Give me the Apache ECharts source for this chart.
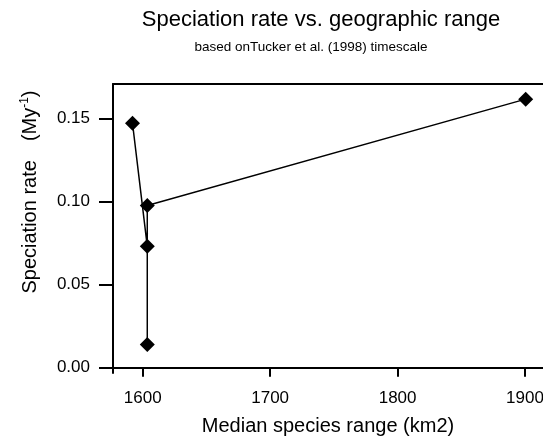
<!DOCTYPE html>
<html>
<head>
<meta charset="utf-8">
<script src="https://cdn.jsdelivr.net/npm/echarts@6/dist/echarts.min.js"></script>
<style>
  html, body { margin: 0; padding: 0; background: #fff; }
  #chart { width: 543px; height: 443px; }
</style>
</head>
<body>
<div id="chart"></div>
<script>
// median range (km2) and speciation rate (My^-1), in plotted order
const rangeKm2 = [1592, 1603.6, 1603.6, 1603.6, 1900.5];
const specRate = [0.147, 0.073, 0.014, 0.0975, 0.1615];
const xTicks = [1600, 1700, 1800, 1900];
const yTicks = [0, 0.05, 0.1, 0.15];

const points = rangeKm2.map((x, i) => [x, specRate[i]]);

const tickFont = {
  color: "#000",
  fontFamily: "'Liberation Sans Narrow', 'Liberation Sans', Arial, sans-serif",
  fontSize: 17,
};

const X_MIN = 1576.7;
const X_MAX = 1914.1;

const chart = echarts.init(document.getElementById("chart"));

chart.setOption({
  animation: false,
  backgroundColor: "#fff",
  title: [
    {
      text: "Speciation rate vs. geographic range",
      left: 316,
      top: 4,
      textAlign: "center",
      textStyle: {
        fontFamily: "'Liberation Sans', Arial, sans-serif",
        fontSize: 22,
        fontWeight: "normal",
        color: "#000",
      },
    },
    {
      text: "based onTucker et al. (1998) timescale",
      left: 306,
      top: 35,
      textAlign: "center",
      textStyle: {
        fontFamily: "'Liberation Sans', Arial, sans-serif",
        fontSize: 13.5,
        fontWeight: "normal",
        color: "#000",
      },
    },
  ],
  grid: {
    left: 113,
    right: 0,
    top: 84,
    bottom: 70,
    outerBoundsMode: "none",
  },
  xAxis: [
    {
      type: "value",
      min: X_MIN,
      max: X_MAX,
      name: "Median species range (km2)",
      nameLocation: "middle",
      nameGap: 43,
      nameTextStyle: {
        fontFamily: "'Liberation Sans', Arial, sans-serif",
        fontSize: 20,
        color: "#000",
      },
      axisLine: { show: true, lineStyle: { color: "#000", width: 2 } },
      axisTick: {
        show: true,
        length: 9,
        lineStyle: { color: "#000", width: 2 },
        customValues: xTicks,
      },
      axisLabel: {
        ...tickFont,
        margin: 17,
        customValues: xTicks,
        formatter: (v) => String(v),
      },
      splitLine: { show: false },
    },
    {
      // top frame line only
      type: "value",
      position: "top",
      min: X_MIN,
      max: X_MAX,
      axisLine: { show: true, lineStyle: { color: "#000", width: 2 } },
      axisTick: { show: false },
      axisLabel: { show: false },
      splitLine: { show: false },
    },
  ],
  yAxis: {
    type: "value",
    min: -0.0032,
    max: 0.1706,
    axisLine: { show: true, lineStyle: { color: "#000", width: 2 } },
    axisTick: {
      show: true,
      length: 14,
      lineStyle: { color: "#000", width: 2 },
      customValues: yTicks,
    },
    axisLabel: {
      ...tickFont,
      margin: 23,
      customValues: yTicks,
      formatter: (v) => v.toFixed(2),
    },
    splitLine: { show: false },
  },
  graphic: [
    {
      type: "text",
      x: 30,
      y: 192,
      rotation: Math.PI / 2,
      style: {
        text: "{a|Speciation rate}{gap|}{a|(My}{sup|-1}{a|)}",
        align: "center",
        verticalAlign: "middle",
        rich: {
          a: {
            fontFamily: "'Liberation Sans', Arial, sans-serif",
            fontSize: 20,
            fill: "#000",
          },
          gap: { width: 19 },
          sup: {
            fontFamily: "'Liberation Sans', Arial, sans-serif",
            fontSize: 12,
            fill: "#000",
            verticalAlign: "top",
            padding: [0, 0, 10, 0],
          },
        },
      },
    },
  ],
  series: [
    {
      type: "line",
      xAxisIndex: 0,
      data: points,
      symbol: "diamond",
      symbolSize: 15,
      lineStyle: { color: "#000", width: 1.5 },
      itemStyle: { color: "#000" },
    },
  ],
});
</script>
</body>
</html>
